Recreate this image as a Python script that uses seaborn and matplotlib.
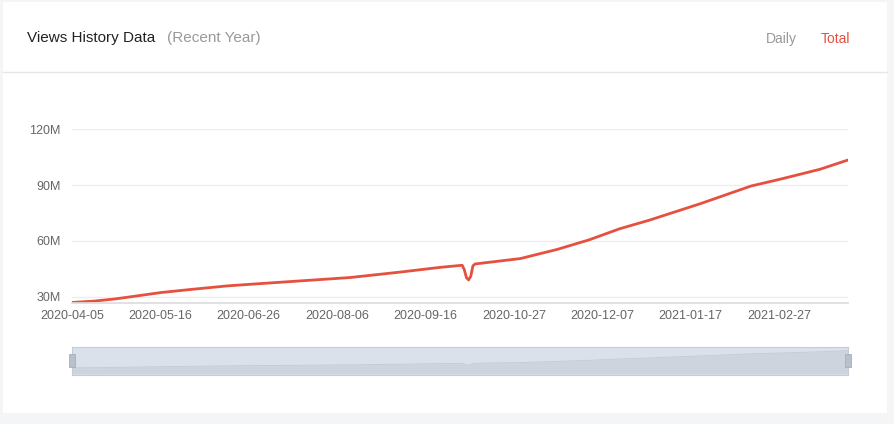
import pandas as pd
import seaborn as sns
import matplotlib.pyplot as plt
from matplotlib.patches import Rectangle
from matplotlib.ticker import FuncFormatter

# Values (total views, millions)
dates = ['2020-04-05', '2020-04-15', '2020-04-25', '2020-05-05', '2020-05-16',
         '2020-05-31', '2020-06-16', '2020-06-27', '2020-07-20', '2020-08-12',
         '2020-09-04', '2020-09-23', '2020-10-03', '2020-10-04', '2020-10-05',
         '2020-10-06', '2020-10-07', '2020-10-08', '2020-10-09',
         '2020-10-30', '2020-11-16', '2020-12-01', '2020-12-15', '2020-12-29',
         '2021-01-22', '2021-02-14', '2021-02-28', '2021-03-18', '2021-03-31']
views_m = [26.9, 27.6, 28.8, 30.4, 32.2,
           34.0, 35.8, 36.7, 38.5, 40.3,
           43.2, 45.8, 46.9, 44.5, 40.2,
           39.0, 41.0, 46.6, 47.6,
           50.5, 55.4, 60.6, 66.5, 71.2,
           80.2, 89.5, 93.3, 98.5, 103.5]
tick_dates = ['2020-04-05', '2020-05-16', '2020-06-26', '2020-08-06', '2020-09-16',
              '2020-10-27', '2020-12-07', '2021-01-17', '2021-02-27']
y_ticks = [30, 60, 90, 120]

df = pd.DataFrame({'date': pd.to_datetime(dates), 'views': [v * 1e6 for v in views_m]})

sns.set_theme(style='white')
plt.rcParams['font.family'] = ['Liberation Sans', 'DejaVu Sans']

line_red = '#e5503f'
page_bg = '#f4f5f7'

fig = plt.figure(figsize=(8.94, 4.24), dpi=100)
fig.patch.set_facecolor(page_bg)

W, H = 894, 424


def fx(px):
    return px / W


def fy(py):
    return 1 - py / H


# white card + header divider (behind the axes)
fig.patches.append(Rectangle((fx(3), fy(413)), fx(887 - 3), (413 - 2) / H,
                             transform=fig.transFigure, facecolor='white',
                             edgecolor='none', zorder=-2))
fig.lines.append(plt.Line2D([fx(3), fx(887)], [fy(72), fy(72)], transform=fig.transFigure,
                            color='#e6e6e6', lw=1, zorder=-1))

# header texts
fig.text(fx(27), fy(38), 'Views History Data', fontsize=11, color='#222222',
         va='center', ha='left')
fig.text(fx(167), fy(38), '(Recent Year)', fontsize=11, color='#999999',
         va='center', ha='left')
fig.text(fx(797), fy(39), 'Daily', fontsize=10, color='#999999',
         va='center', ha='right')
fig.text(fx(821), fy(39), 'Total', fontsize=10, color=line_red,
         va='center', ha='left')

# main chart
x0, x1 = pd.Timestamp(dates[0]), pd.Timestamp(dates[-1])
ax = fig.add_axes([fx(72), fy(303.3), fx(848 - 72), (303.3 - 129.3) / H])
ax.set_facecolor('none')
sns.lineplot(data=df, x='date', y='views', ax=ax, color=line_red, lw=2)
ax.set_xlim(x0, x1)
ax.set_ylim(26.45e6, 120e6)
ax.set_yticks([v * 1e6 for v in y_ticks])
ax.yaxis.set_major_formatter(FuncFormatter(lambda v, p: f'{v / 1e6:.0f}M'))
ax.set_xticks(pd.to_datetime(tick_dates))
ax.set_xticklabels(tick_dates)
ax.grid(axis='y', color='#eeeeee', lw=1)
ax.set_axisbelow(True)
ax.tick_params(axis='both', length=0, labelsize=9, colors='#666666')
ax.tick_params(axis='y', pad=8)
ax.tick_params(axis='x', pad=5)
for s in ['top', 'right', 'left']:
    ax.spines[s].set_visible(False)
ax.spines['bottom'].set_color('#dddddd')
ax.set_xlabel('')
ax.set_ylabel('')

# zoom slider with data shadow
sl = fig.add_axes([fx(72), fy(375), fx(848 - 72), (375 - 347) / H])
sl.set_facecolor('#dbe1ea')
sl.fill_between(df['date'], 0, df['views'], color='#cdd4dd', lw=0)
sl.plot(df['date'], df['views'], color='#c3cad4', lw=0.6)
sl.set_xlim(x0, x1)
sl.set_ylim(-5e6, 120e6)
sl.set_xticks([])
sl.set_yticks([])
for s in sl.spines.values():
    s.set_color('#c5ccd6')
    s.set_linewidth(0.8)
for hx in [72, 848]:
    fig.patches.append(Rectangle((fx(hx - 3), fy(367)), fx(6), 13 / H,
                                 transform=fig.transFigure, facecolor='#b7c1ce',
                                 edgecolor='#a5b0be', lw=0.6, zorder=5))

fig.savefig('out.png', dpi=100, facecolor=fig.get_facecolor())
